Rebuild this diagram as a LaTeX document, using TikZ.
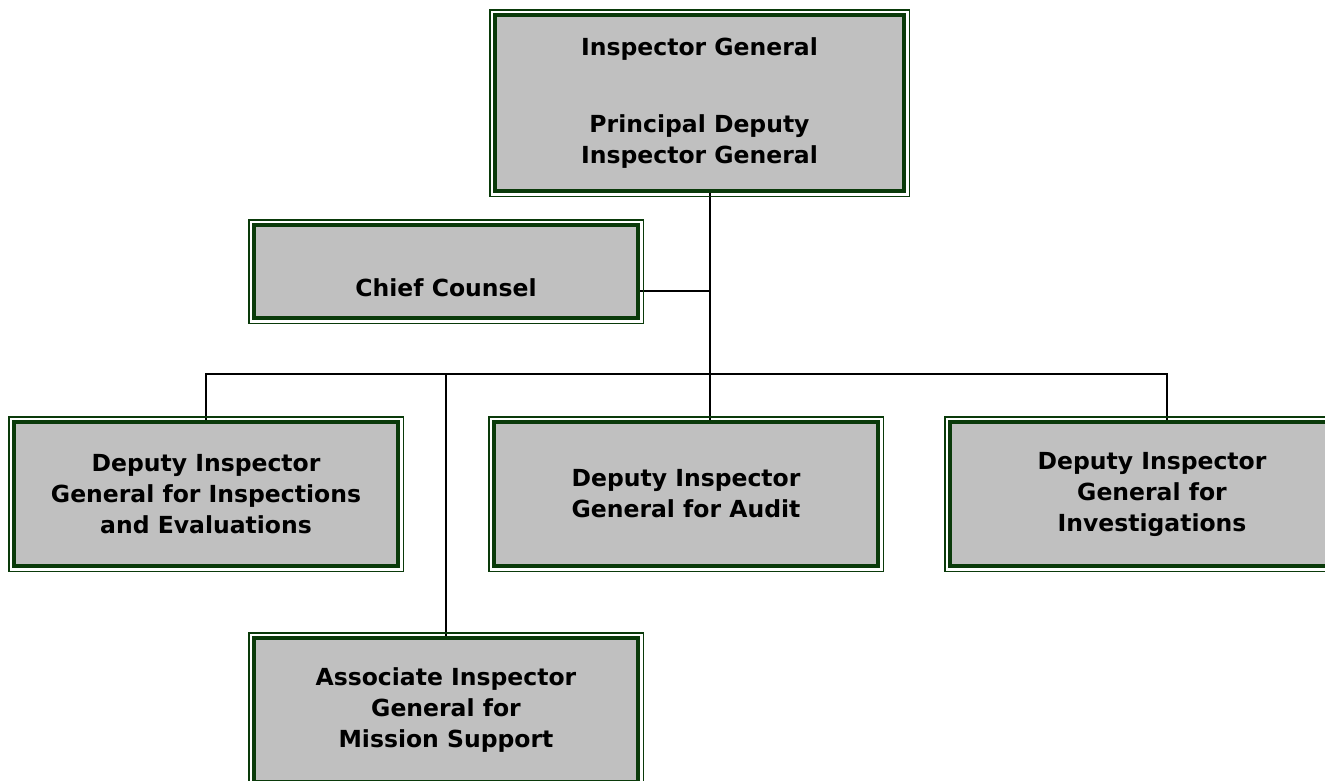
\documentclass[tikz,border=0pt]{standalone}
\usepackage{fontspec}
\setmainfont{DejaVu Sans}
\usetikzlibrary{backgrounds}

\definecolor{framegreen}{HTML}{0A3A0A}
\definecolor{boxgrey}{HTML}{C0C0C0}
\definecolor{edgegrey}{HTML}{9A9A9A}

\tikzset{
  box/.style={
    draw=framegreen, line width=3.4pt, fill=boxgrey,
    minimum width=384pt, minimum height=144pt,
    inner sep=0pt, align=center,
    append after command={\pgfextra{
      \draw[framegreen, line width=1.2pt]
        ([shift={(-3.4pt,3.4pt)}]\tikzlastnode.north west) rectangle
        ([shift={(3.4pt,-3.4pt)}]\tikzlastnode.south east);
      \draw[edgegrey, line width=0.8pt]
        ([shift={(2.1pt,-2.1pt)}]\tikzlastnode.north west) rectangle
        ([shift={(-2.1pt,2.1pt)}]\tikzlastnode.south east);
    }}
  },
  link/.style={draw=black, line width=1.4pt}
}

\begin{document}
\begin{tikzpicture}[x=1pt, y=-1pt, font=\fontsize{23.5}{31}\selectfont\bfseries]
  \useasboundingbox (0,0) rectangle (1325,780);
  \clip (0,0) rectangle (1325,780);

  \node[box, minimum width=409pt, minimum height=176pt] (ig) at (699.5,103)
    {Inspector General\\[46pt]Principal Deputy\\Inspector General};
  \node[box, minimum height=93pt,
        label={[yshift=-16pt]center:Chief Counsel}] (cc) at (446,271.5) {};

  \node[box] (ie) at (206,494) {Deputy Inspector\\General for Inspections\\and Evaluations};
  \node[box] (au) at (686,494) {Deputy Inspector\\General for Audit};
  \node[box, minimum width=404pt] (inv) at (1152,494) {Deputy Inspector\\General for\\Investigations};

  \node[box] (ms) at (446,710) {Associate Inspector\\General for\\Mission Support};

  % connectors
  \coordinate (trunk) at (710,374);
  \coordinate (busR) at (1167,374);
  \coordinate (ccout) at ([yshift=-19.5pt]cc.east);

  \begin{scope}[on background layer]
    \draw[link] (trunk |- ig.south) -- (trunk |- au.north);
    \draw[link] (ccout) -- (ccout -| trunk);
    \draw[link] (ie.north) |- (busR) -- (busR |- inv.north);
    \draw[link] (ms.north) -- (ms.north |- trunk);
  \end{scope}
\end{tikzpicture}
\end{document}
